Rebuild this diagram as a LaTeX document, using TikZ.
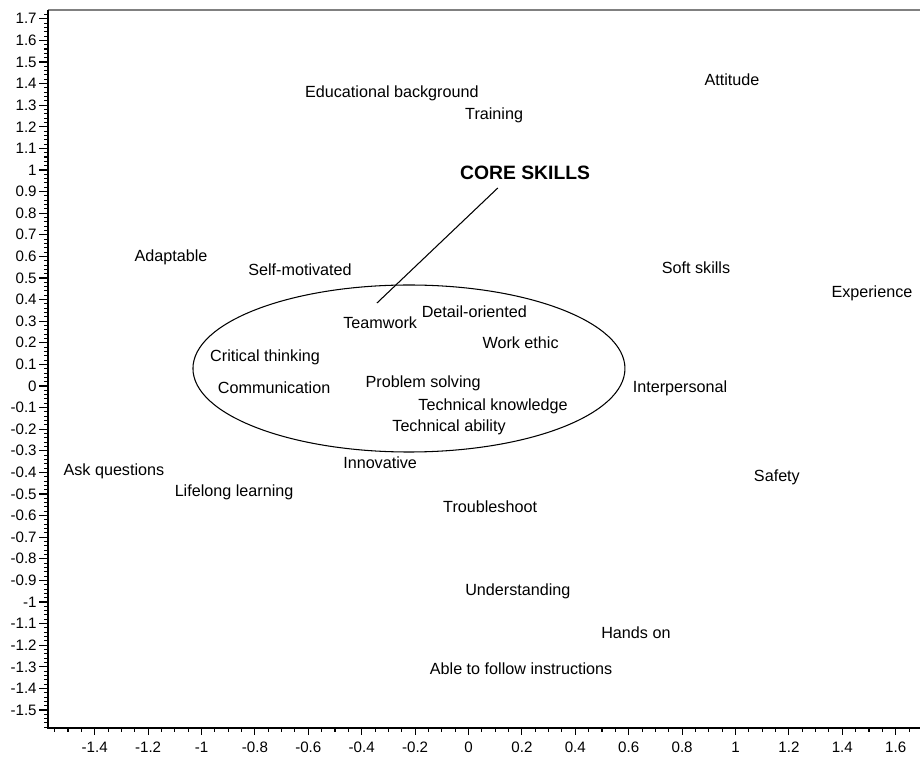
\documentclass[tikz,border=0pt]{standalone}
\usepackage{fontspec}
\setmainfont{Liberation Sans}
\tikzset{
    skill/.style = {inner sep=0, font=\fontsize{9.2}{11}\selectfont},
    ticklabel/.style = {inner sep=0, font=\fontsize{8.6}{10}\selectfont},
    axisline/.style = {line width=1.6pt},
    ticker/.style = {line width=0.6pt}
}

\begin{document}
\begin{tikzpicture}[x=5.34cm, y=4.32cm]
    \useasboundingbox (-1.7547,-1.7176) rectangle (1.691,1.787);
    % axes and frame
    \coordinate (origin) at (-1.575,-1.583);
    \coordinate (ytop) at (-1.575,1.74);
    \coordinate (xend) at (1.691,-1.583);
    \coordinate (frameend) at (1.691,1.74);
    \draw[gray, line width=1pt] (ytop) -- (frameend);
    \foreach \i in {-79,...,86}
        \draw[ticker] (-1.575,\i/50) -- ++(-0.08cm,0);
    \foreach \i in {-31,...,33}
        \draw[ticker] (\i/20,-1.583) -- ++(0,-0.08cm);
    \foreach \v in {-1.5,-1.4,-1.3,-1.2,-1.1,-1,-0.9,-0.8,-0.7,-0.6,-0.5,-0.4,-0.3,-0.2,-0.1,0,0.1,0.2,0.3,0.4,0.5,0.6,0.7,0.8,0.9,1,1.1,1.2,1.3,1.4,1.5,1.6,1.7} {
        \draw[ticker] (-1.575,\v) -- ++(-0.18cm,0);
        \node[ticklabel, left=0.22cm] at (-1.575,\v) {\v};
    }
    \foreach \v in {-1.4,-1.2,-1,-0.8,-0.6,-0.4,-0.2,0,0.2,0.4,0.6,0.8,1,1.2,1.4,1.6} {
        \draw[ticker] (\v,-1.583) -- ++(0,-0.15cm);
        \node[ticklabel, below=0.28cm] at (\v,-1.583) {\v};
    }
    \draw[axisline] (ytop) -- (origin) -- (xend);

    % core skills group
    \draw[line width=0.6pt] (-0.223,0.081) ellipse [x radius=4.32cm, y radius=1.67cm];
    \node[inner sep=0, font=\fontsize{11}{13}\selectfont\bfseries] (core) at (0.212,0.986) {CORE SKILLS};
    \coordinate (leadstart) at (0.110,0.917);
    \coordinate (leadend) at (-0.343,0.384);
    \draw[line width=0.6pt] (leadstart) -- (leadend);

    % skills
    \node[skill] (edu) at (-0.287,1.356) {Educational background};
    \node[skill] (training) at (0.096,1.255) {Training};
    \node[skill] (attitude) at (0.987,1.417) {Attitude};
    \node[skill] (adaptable) at (-1.114,0.597) {Adaptable};
    \node[skill] (selfmot) at (-0.631,0.537) {Self-motivated};
    \node[skill] (soft) at (0.852,0.546) {Soft skills};
    \node[skill] (experience) at (1.511,0.431) {Experience};
    \node[skill] (teamwork) at (-0.331,0.292) {Teamwork};
    \node[skill] (detail) at (0.022,0.343) {Detail-oriented};
    \node[skill] (ethic) at (0.195,0.199) {Work ethic};
    \node[skill] (critical) at (-0.762,0.134) {Critical thinking};
    \node[skill] (comm) at (-0.728,-0.009) {Communication};
    \node[skill] (problem) at (-0.170,0.014) {Problem solving};
    \node[skill] (techknow) at (0.092,-0.093) {Technical knowledge};
    \node[skill] (techab) at (-0.073,-0.190) {Technical ability};
    \node[skill] (innov) at (-0.331,-0.356) {Innovative};
    \node[skill] (interp) at (0.792,-0.009) {Interpersonal};
    \node[skill] (askq) at (-1.328,-0.394) {Ask questions};
    \node[skill] (lifelong) at (-0.878,-0.491) {Lifelong learning};
    \node[skill] (trouble) at (0.081,-0.560) {Troubleshoot};
    \node[skill] (safety) at (1.155,-0.421) {Safety};
    \node[skill] (underst) at (0.185,-0.949) {Understanding};
    \node[skill] (hands) at (0.627,-1.144) {Hands on};
    \node[skill] (follow) at (0.197,-1.310) {Able to follow instructions};
\end{tikzpicture}
\end{document}
